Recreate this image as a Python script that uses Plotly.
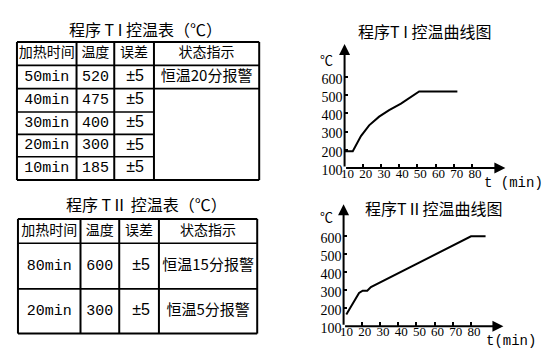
import plotly.graph_objects as go

# ---------------- data ----------------
t1_time = [10, 14.5, 19, 23.5, 29, 34.5, 41, 51, 72]
t1_temp = [192, 192, 275, 334, 382, 418, 454, 521, 521]
t2_time = [11.5, 18.5, 20.5, 23, 25, 80, 88]
t2_temp = [165, 285, 298, 298, 318, 600, 600]

y_ticks = [100, 200, 300, 400, 500, 600]
x_ticks = [10, 20, 30, 40, 50, 60, 70, 80]

table_header = ["加热时间", "温度", "误差", "状态指示"]
table1_time = ["50min", "40min", "30min", "20min", "10min"]
table1_temp = ["520", "475", "400", "300", "185"]
table1_err = ["±5", "±5", "±5", "±5", "±5"]
table1_status = ["恒温20分报警"]
table2_time = ["80min", "20min"]
table2_temp = ["600", "300"]
table2_err = ["±5", "±5"]
table2_status = ["恒温15分报警", "恒温5分报警"]

titles = ["程序 T I 控温表（℃）", "程序 TⅡ 控温表（℃）", "程序T I 控温曲线图", "程序TⅡ控温曲线图"]

# ---------------- layout constants (pixel geometry) ----------------
W, H = 552, 356
CJK = "Noto Sans CJK SC"
MONO = "Liberation Mono"
SERIF = "Liberation Serif"

t1_cols = [5, 65, 103, 143, 249]
t1_rows = [35, 59, 83, 107, 130, 153, 177]
t2_cols = [6, 69, 108, 148, 247]
t2_rows = [217, 242, 289, 335]

fig = go.Figure()

# ---------------- curves ----------------
fig.add_trace(go.Scatter(x=t1_time, y=t1_temp, mode="lines",
                         line=dict(color="black", width=2), xaxis="x", yaxis="y",
                         showlegend=False, hoverinfo="skip"))
fig.add_trace(go.Scatter(x=t2_time, y=t2_temp, mode="lines",
                         line=dict(color="black", width=2), xaxis="x2", yaxis="y2",
                         showlegend=False, hoverinfo="skip"))


def mid(a, i):
    return (a[i] + a[i + 1]) / 2


def text_trace(xs, ys, texts, family, size):
    fig.add_trace(go.Scatter(x=xs, y=ys, text=texts, mode="text",
                             textposition="middle center",
                             textfont=dict(family=family, size=size, color="black"),
                             xaxis="x3", yaxis="y3", showlegend=False, hoverinfo="skip"))


# table 1 text
text_trace([mid(t1_cols, i) for i in range(4)], [mid(t1_rows, 0)] * 4, table_header, CJK, 14)
rows1 = [mid(t1_rows, i + 1) for i in range(len(table1_time))]
text_trace([mid(t1_cols, 0)] * len(rows1), rows1, table1_time, MONO, 15)
text_trace([mid(t1_cols, 1)] * len(rows1), rows1, table1_temp, MONO, 15)
text_trace([mid(t1_cols, 2) + 1] * len(rows1), rows1, table1_err, "Liberation Sans", 16)
text_trace([mid(t1_cols, 3)], [rows1[0]], table1_status, CJK, 15)

# table 2 text
text_trace([mid(t2_cols, i) for i in range(4)], [mid(t2_rows, 0)] * 4, table_header, CJK, 14)
rows2 = [mid(t2_rows, i + 1) for i in range(len(table2_time))]
text_trace([mid(t2_cols, 0)] * len(rows2), rows2, table2_time, MONO, 15)
text_trace([mid(t2_cols, 1)] * len(rows2), rows2, table2_temp, MONO, 15)
text_trace([mid(t2_cols, 2) + 2] * len(rows2), rows2, table2_err, "Liberation Sans", 16)
text_trace([mid(t2_cols, 3)] * len(rows2), rows2, table2_status, CJK, 15)

# ---------------- table borders ----------------
shapes = []


def seg(x0, y0, x1, y1, w=1.6):
    shapes.append(dict(type="line", xref="x3", yref="y3", x0=x0, y0=y0, x1=x1, y1=y1,
                       line=dict(color="black", width=w)))


# table 1
seg(t1_cols[0], t1_rows[0], t1_cols[-1], t1_rows[0], 2)
seg(t1_cols[0], t1_rows[-1], t1_cols[-1], t1_rows[-1], 2)
seg(t1_cols[0], t1_rows[0], t1_cols[0], t1_rows[-1], 2)
seg(t1_cols[-1], t1_rows[0], t1_cols[-1], t1_rows[-1], 2)
for c in t1_cols[1:-1]:
    seg(c, t1_rows[0], c, t1_rows[-1], 2)
seg(t1_cols[0], t1_rows[1], t1_cols[-1], t1_rows[1])
seg(t1_cols[0], t1_rows[2], t1_cols[-1], t1_rows[2])
for r in t1_rows[3:-1]:
    seg(t1_cols[0], r, t1_cols[3], r)

# table 2
seg(t2_cols[0], t2_rows[0], t2_cols[-1], t2_rows[0], 2)
seg(t2_cols[0], t2_rows[-1], t2_cols[-1], t2_rows[-1], 2)
for c in t2_cols:
    seg(c, t2_rows[0], c, t2_rows[-1], 2)
for r in t2_rows[1:-1]:
    seg(t2_cols[0], r, t2_cols[-1], r)

# ---------------- annotations ----------------
ann = []


def label(x, y, text, family, size):
    ann.append(dict(x=x, y=y, xref="x3", yref="y3", text=text, showarrow=False,
                    font=dict(family=family, size=size, color="black"),
                    xanchor="center", yanchor="middle"))


label(134, 22, titles[0], CJK, 16)
label(135, 202, titles[1], CJK, 16)
label(416, 24, titles[2], CJK, 16)
label(425, 206, titles[3], CJK, 16)
label(317, 53, "℃", CJK, 13)
label(317, 215, "℃", CJK, 13)
label(505, 180, "t (min)", MONO, 14)
label(503, 343, "t(min)", MONO, 14)

# axis arrows
x1_range = [10, 98.4]
y1_range = [100, 782]
x2_range = [10, 97.8]
y2_range = [100, 778]
for xa, ya, xr, yr in (("x", "y", x1_range, y1_range), ("x2", "y2", x2_range, y2_range)):
    ann.append(dict(x=xr[1], y=yr[0], ax=xr[0], ay=yr[0], xref=xa, yref=ya, axref=xa, ayref=ya,
                    text="", showarrow=True, arrowhead=2, arrowsize=1.1, arrowwidth=2,
                    arrowcolor="black"))
    ann.append(dict(x=xr[0], y=yr[1], ax=xr[0], ay=yr[0], xref=xa, yref=ya, axref=xa, ayref=ya,
                    text="", showarrow=True, arrowhead=2, arrowsize=1.1, arrowwidth=2,
                    arrowcolor="black"))


def px_x(p):
    return p / W


def px_y(p):
    return 1 - p / H


common_x = dict(showgrid=False, zeroline=False, showline=False, tickvals=x_ticks,
                ticks="inside", ticklen=4, tickwidth=1.5, tickcolor="black",
                ticklabelstandoff=-4, ticklabelshift=3,
                tickfont=dict(family=SERIF, size=13, color="black"))
common_y = dict(showgrid=False, zeroline=False, showline=False, tickvals=y_ticks,
                ticks="inside", ticklen=3, tickwidth=1.5, tickcolor="black",
                ticklabelshift=2, ticklabelstandoff=1,
                tickfont=dict(family=SERIF, size=14, color="black"))

fig.update_layout(
    width=W, height=H, margin=dict(l=0, r=0, t=0, b=0),
    paper_bgcolor="white", plot_bgcolor="rgba(0,0,0,0)",
    showlegend=False,
    xaxis=dict(domain=[px_x(335), px_x(497)], range=x1_range, anchor="y", **common_x),
    yaxis=dict(domain=[px_y(164.5), px_y(37)], range=y1_range, anchor="x", **common_y),
    xaxis2=dict(domain=[px_x(334), px_x(495)], range=x2_range, anchor="y2", **common_x),
    yaxis2=dict(domain=[px_y(327.5), px_y(202)], range=y2_range, anchor="x2", **common_y),
    xaxis3=dict(domain=[0, 1], range=[0, W], visible=False, anchor="y3"),
    yaxis3=dict(domain=[0, 1], range=[H, 0], visible=False, anchor="x3"),
    shapes=shapes, annotations=ann,
)

fig.write_html("out.html")
